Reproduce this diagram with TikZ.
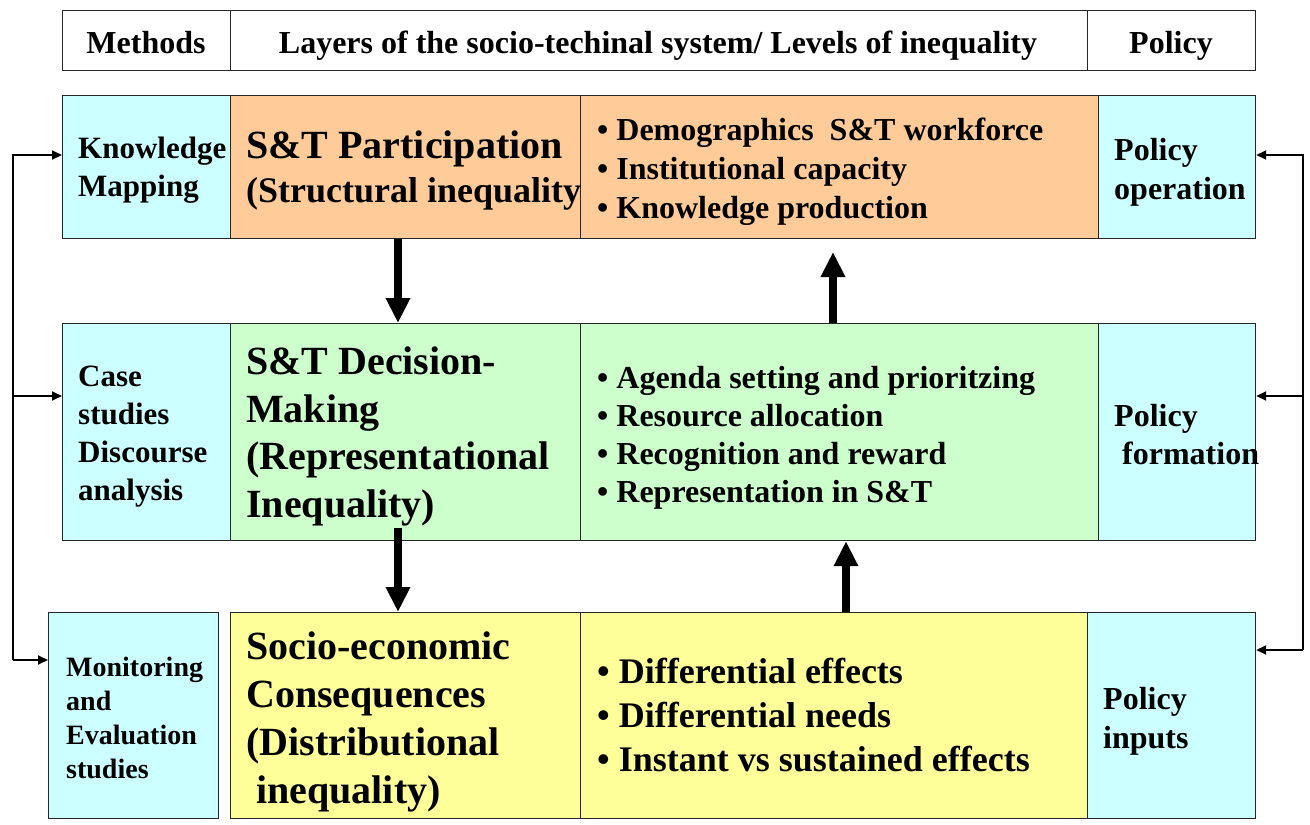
\documentclass[tikz,border=0pt]{standalone}
\usepackage{fontspec}
\setmainfont{Liberation Serif}
\usepackage{tikz}
\usetikzlibrary{arrows.meta}

\definecolor{cyanbg}{HTML}{CCFFFF}
\definecolor{orangebg}{HTML}{FFCC99}
\definecolor{greenbg}{HTML}{CCFFCC}
\definecolor{yellowbg}{HTML}{FFFF99}
\newcommand{\tsz}[2]{\fontsize{#1}{#2}\selectfont\bfseries}

\begin{document}
\begin{tikzpicture}[
            x = 1pt, y = -1pt, % pixel grid, y grows downwards
            cell/.style = {draw = black!85, line width = 1.2pt, anchor = north west, inner sep = 0pt},
            txt/.style = {anchor = north west, inner sep = 0pt, align = left},
            bigarr/.style = {line width = 8pt, -{Triangle[width = 23pt, length = 25pt]}},
            fbarr/.style = {line width = 1.8pt, -{Triangle[width = 9pt, length = 10pt]}}
        ]

        \useasboundingbox[fill = white] (0,0) rectangle (1310,825);

        % header row
        \node[cell, fill = white, minimum width = 168pt, minimum height = 60pt] (hm) at (62,10) {};
        \node[cell, fill = white, minimum width = 857pt, minimum height = 60pt] (hl) at (230,10) {};
        \node[cell, fill = white, minimum width = 168pt, minimum height = 60pt] (hp) at (1087,10) {};

        % layer 1
        \node[cell, fill = cyanbg, minimum width = 168pt, minimum height = 143pt] (m1) at (62,95) {};
        \node[cell, fill = orangebg, minimum width = 350pt, minimum height = 143pt] (l1a) at (230,95) {};
        \node[cell, fill = orangebg, minimum width = 518pt, minimum height = 143pt] (l1b) at (580,95) {};
        \node[cell, fill = cyanbg, minimum width = 157pt, minimum height = 143pt] (p1) at (1098,95) {};

        % layer 2
        \node[cell, fill = cyanbg, minimum width = 168pt, minimum height = 217pt] (m2) at (62,323) {};
        \node[cell, fill = greenbg, minimum width = 350pt, minimum height = 217pt] (l2a) at (230,323) {};
        \node[cell, fill = greenbg, minimum width = 518pt, minimum height = 217pt] (l2b) at (580,323) {};
        \node[cell, fill = cyanbg, minimum width = 157pt, minimum height = 217pt] (p2) at (1098,323) {};

        % layer 3
        \node[cell, fill = cyanbg, minimum width = 170pt, minimum height = 206pt] (m3) at (48,612) {};
        \node[cell, fill = yellowbg, minimum width = 350pt, minimum height = 206pt] (l3a) at (230,612) {};
        \node[cell, fill = yellowbg, minimum width = 507pt, minimum height = 206pt] (l3b) at (580,612) {};
        \node[cell, fill = cyanbg, minimum width = 168pt, minimum height = 206pt] (p3) at (1087,612) {};

        % arrows between layers
        \coordinate (dx) at (398,0);
        \coordinate (u1) at (833,252);
        \coordinate (ux2) at (846,0);
        \coordinate (d2) at (398,528);
        \draw[bigarr] (l1a.south -| dx) -- (l2a.north -| dx);
        \draw[bigarr] (l2b.north -| u1) -- (u1);
        \draw[bigarr] (d2) -- (l3a.north -| d2);
        \draw[bigarr] (l3b.north -| ux2) -- (l2b.south -| ux2);

        % feedback lines
        \coordinate (lt) at (13,155);
        \coordinate (lm) at (13,396);
        \coordinate (lb) at (13,660);
        \coordinate (rt) at (1303,155);
        \coordinate (rm) at (1303,396);
        \coordinate (rb) at (1303,650);
        \draw[fbarr] (lb) -- (lt) -- (lt -| m1.west);
        \draw[fbarr] (lm) -- (lm -| m2.west);
        \draw[fbarr] (lb) -- (lb -| m3.west);
        \draw[fbarr] (rb) -- (rt) -- (rt -| p1.east);
        \draw[fbarr] (rm) -- (rm -| p2.east);
        \draw[fbarr] (rb) -- (rb -| p3.east);

        % texts
        \node[anchor = base, font = \tsz{32}{38}] (thm) at (146,53) {Methods};
        \node[anchor = base, font = \tsz{32}{38}] (thl) at (658,53) {Layers of the socio-techinal system/ Levels of inequality};
        \node[anchor = base, font = \tsz{32}{38}] (thp) at (1171,53) {Policy};

        \node[txt, font = \tsz{31}{38}] (tm1) at (78,137) {Knowledge\\Mapping};
        \node[txt, font = \tsz{36}{44}] (tl1a) at (246,131) {{\fontsize{40}{44}\selectfont S\&T Participation}\\(Structural inequality};
        \node[txt, font = \tsz{32}{39}] (tl1b) at (597,118) {• Demographics\ \ S\&T workforce\\• Institutional capacity\\• Knowledge production};
        \node[txt, font = \tsz{32}{39}] (tp1) at (1114,138) {Policy\\operation};

        \node[txt, font = \tsz{31}{38}] (tm2) at (78,366) {Case\\studies\\Discourse\\analysis};
        \node[txt, font = \tsz{40}{47.5}] (tl2a) at (246,347) {S\&T Decision-\\Making\\(Representational\\Inequality)};
        \node[txt, font = \tsz{32}{38}] (tl2b) at (597,366) {• Agenda setting and prioritzing\\• Resource allocation\\• Recognition and reward\\• Representation in S\&T};
        \node[txt, font = \tsz{32}{38}] (tp2) at (1114,404) {Policy\\\ formation};

        \node[txt, font = \tsz{28}{34}] (tm3) at (66,657) {Monitoring\\and\\Evaluation\\studies};
        \node[txt, font = \tsz{40}{48}] (tl3a) at (246,632) {Socio-economic\\Consequences\\(Distributional\\\ inequality)};
        \node[txt, font = \tsz{36}{44}] (tl3b) at (597,658) {• Differential effects\\• Differential needs\\• Instant vs sustained effects};
        \node[txt, font = \tsz{32}{39}] (tp3) at (1103,687) {Policy\\inputs};

    \end{tikzpicture}
\end{document}
